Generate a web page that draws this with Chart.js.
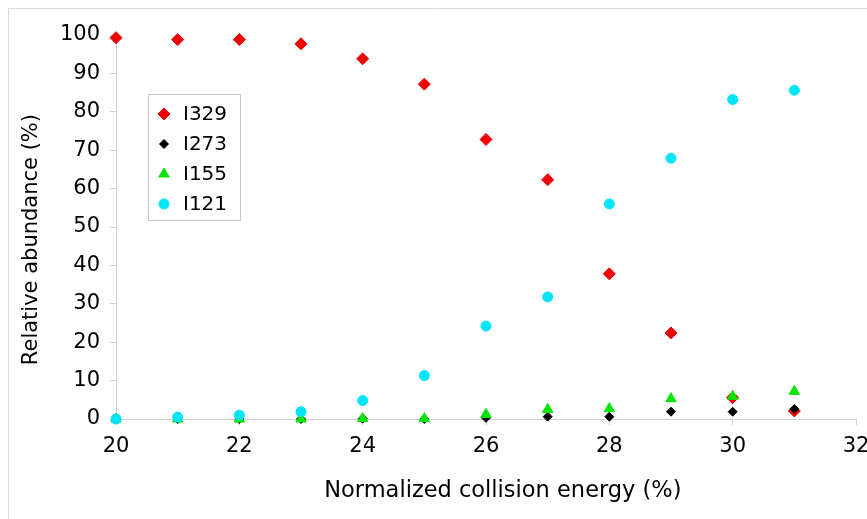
<!DOCTYPE html>
<html>
<head>
    <title>Relative abundance vs collision energy</title>
    <script src="https://cdn.jsdelivr.net/npm/chart.js"></script>
    <style>
        body { margin: 0; background: #fff; overflow: hidden; }
        canvas { display: block; }
    </style>
</head>
<body>
    <canvas id="chart" width="867" height="519"></canvas>

    <script>
        // values
        const energy = [20, 21, 22, 23, 24, 25, 26, 27, 28, 29, 30, 31];
        const i329 = [99.3, 98.8, 98.8, 97.7, 93.8, 87.2, 72.8, 62.3, 37.8, 22.4, 5.6, 2.1];
        const i273 = [0, 0, 0, 0, 0.1, 0, 0.3, 0.6, 0.6, 1.9, 1.9, 2.6];
        const i155 = [0, 0, 0, 0, 0.1, 0.1, 1.2, 2.5, 2.7, 5.3, 5.9, 7.2];
        const i121 = [0, 0.5, 1.0, 1.9, 4.8, 11.3, 24.2, 31.8, 56.0, 67.9, 83.2, 85.6];
        const seriesNames = ['I329', 'I273', 'I155', 'I121'];
        const xTicks = [20, 22, 24, 26, 28, 30, 32];

        const pts = (ys) => energy.map((x, i) => ({ x: x, y: ys[i] }));
        const axisGray = '#cfcfcf';
        const family = 'DejaVu Sans, Verdana, sans-serif';
        const font = { family: family, size: 21 };

        // frame line of the original picture
        const framePlugin = {
            id: 'frame',
            beforeDraw(chart) {
                const c = chart.ctx;
                c.save();
                c.strokeStyle = '#d9d9d9';
                c.lineWidth = 1;
                c.beginPath();
                c.moveTo(8.5, chart.height);
                c.lineTo(8.5, 8.5);
                c.lineTo(chart.width, 8.5);
                c.stroke();
                c.restore();
            }
        };

        // boxed legend inside the plot, like the Excel one
        const boxLegend = {
            id: 'boxLegend',
            afterDraw(chart) {
                const c = chart.ctx;
                c.save();
                c.strokeStyle = '#c8c8c8';
                c.lineWidth = 1;
                c.strokeRect(148.5, 94.5, 92, 126);
                c.font = '20px ' + family;
                c.textBaseline = 'middle';
                chart.data.datasets.forEach((ds, i) => {
                    const y = 114 + i * 30;
                    c.fillStyle = ds.backgroundColor;
                    c.strokeStyle = ds.borderColor;
                    Chart.helpers.drawPoint(c, {
                        pointStyle: ds.pointStyle,
                        radius: ds.pointRadius,
                        rotation: 0,
                        borderWidth: 1
                    }, 164, y);
                    c.fillStyle = '#000';
                    c.fillText(ds.label, 183, y + 1);
                });
                c.restore();
            }
        };

        const ctx = document.getElementById('chart').getContext('2d');
        const chart = new Chart(ctx, {
            type: 'scatter',
            data: {
                datasets: [{
                    label: seriesNames[0],
                    data: pts(i329),
                    pointStyle: 'rectRot',
                    pointRadius: 6,
                    backgroundColor: '#f00000',
                    borderColor: '#f00000',
                    order: 4,
                    clip: false
                }, {
                    label: seriesNames[1],
                    data: pts(i273),
                    pointStyle: 'rectRot',
                    pointRadius: 4.5,
                    backgroundColor: '#000',
                    borderColor: '#000',
                    order: 3,
                    clip: false
                }, {
                    label: seriesNames[2],
                    data: pts(i155),
                    pointStyle: 'triangle',
                    pointRadius: 6,
                    backgroundColor: '#00e600',
                    borderColor: '#00e600',
                    order: 2,
                    clip: false
                }, {
                    label: seriesNames[3],
                    data: pts(i121),
                    pointStyle: 'circle',
                    pointRadius: 5,
                    backgroundColor: '#00e6f8',
                    borderColor: '#00e6f8',
                    order: 1,
                    clip: false
                }]
            },
            options: {
                responsive: false,
                animation: false,
                layout: { padding: { top: 35, right: 11, left: 0, bottom: 0 } },
                plugins: {
                    legend: { display: false },
                    tooltip: { enabled: false }
                },
                scales: {
                    x: {
                        type: 'linear',
                        min: 20,
                        max: 32,
                        afterBuildTicks: (s) => { s.ticks = xTicks.map(v => ({ value: v })); },
                        // the last label runs off the edge in the original, so no extra room for it
                        afterFit: (s) => { s.height = 100; s.paddingRight = 0; },
                        ticks: { font: font, color: '#000', padding: 9 },
                        grid: { drawOnChartArea: false, tickLength: 6, color: axisGray },
                        border: { color: axisGray },
                        title: {
                            display: true,
                            // leading spaces nudge the title right, as in the original
                            text: '\u2003\u2002Normalized collision energy (%)',
                            font: { family: family, size: 22.5 },
                            color: '#000',
                            padding: { top: 0, bottom: 14 }
                        }
                    },
                    y: {
                        min: 0,
                        max: 100,
                        afterFit: (s) => { s.width = 116; },
                        ticks: { stepSize: 10, font: font, color: '#000', padding: 10 },
                        grid: { drawOnChartArea: false, tickLength: 6, color: axisGray },
                        border: { color: axisGray },
                        title: {
                            display: true,
                            text: 'Relative abundance (%)\u2003\u2009',
                            font: font,
                            color: '#000',
                            padding: { top: 19, bottom: 0 }
                        }
                    }
                }
            },
            plugins: [framePlugin, boxLegend]
        });
    </script>
</body>
</html>
